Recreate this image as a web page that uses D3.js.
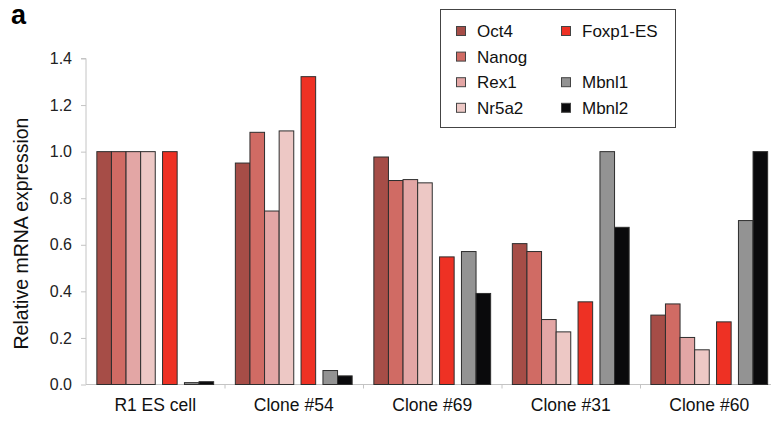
<!DOCTYPE html>
<html>
<head>
<meta charset="utf-8">
<script src="https://cdn.jsdelivr.net/npm/d3@7"></script>
<style>
  body { margin: 0; background: #fff; }
  svg { display: block; font-family: "Liberation Sans", Arial, sans-serif; }
</style>
</head>
<body>
<div id="chart"></div>
<script>
// Data
var groups = ["R1 ES cell", "Clone #54", "Clone #69", "Clone #31", "Clone #60"];
var seriesNames = ["Oct4", "Nanog", "Rex1", "Nr5a2", "Foxp1-ES", "Mbnl1", "Mbnl2"];
var oct4   = [1.0, 0.951, 0.977, 0.605, 0.298];
var nanog  = [1.0, 1.083, 0.876, 0.571, 0.346];
var rex1   = [1.0, 0.745, 0.880, 0.279, 0.202];
var nr5a2  = [1.0, 1.089, 0.866, 0.226, 0.149];
var foxp1  = [1.0, 1.322, 0.548, 0.355, 0.269];
var mbnl1  = [0.008, 0.060, 0.571, 1.0, 0.704];
var mbnl2  = [0.012, 0.037, 0.391, 0.675, 1.0];
var yTicks = [0, 0.2, 0.4, 0.6, 0.8, 1.0, 1.2, 1.4];

var seriesValues = [oct4, nanog, rex1, nr5a2, foxp1, mbnl1, mbnl2];
var colors = ["#a64d47", "#d06b64", "#e3a6a5", "#edc8c5", "#ee3124", "#939393", "#0a0a0c"];
// slot of each series inside a group (gaps around Foxp1-ES)
var slots = [0, 1, 2, 3, 4.5, 6, 7];

var svgWidth = 771;
var svgHeight = 422;

var svg = d3.select("#chart")
  .append("svg")
  .attr("width", svgWidth)
  .attr("height", svgHeight);

// Plot area
var x0 = 86, x1 = 778.5, yBottom = 384.5;

var xScale = d3.scaleBand()
  .domain(groups)
  .range([x0, x1])
  .paddingInner(0)
  .paddingOuter(0);

var yScale = d3.scaleLinear()
  .domain([0, 1.4])
  .range([yBottom, 58.5]);

var barW = 14.6;
var slotScale = d3.scaleLinear()
  .domain([0, 8])
  .range([(xScale.bandwidth() - 8 * barW) / 2, (xScale.bandwidth() + 8 * barW) / 2]);

// Y axis
var yAxis = svg.append("g")
  .attr("transform", `translate(${x0}, 0)`)
  .call(d3.axisLeft(yScale).tickValues(yTicks).tickFormat(d3.format(".1f")).tickSize(5).tickPadding(9));
yAxis.select(".domain").attr("stroke", "#c4c4c4").attr("d", `M-5,${yScale(1.4)}H0V${yBottom}`);
yAxis.selectAll(".tick line").attr("stroke", "#c4c4c4");
yAxis.selectAll(".tick text")
  .style("font-size", "16px")
  .style("font-family", "Liberation Sans, Arial, sans-serif")
  .attr("fill", "#222");

// X axis: ticks between groups
var xAxisG = svg.append("g");
xAxisG.append("line")
  .attr("x1", x0).attr("x2", x1)
  .attr("y1", yBottom).attr("y2", yBottom)
  .attr("stroke", "#c4c4c4");
xAxisG.selectAll(".xtick")
  .data(groups.slice(1))
  .enter()
  .append("line")
  .attr("x1", d => xScale(d) + 0.5)
  .attr("x2", d => xScale(d) + 0.5)
  .attr("y1", yBottom)
  .attr("y2", yBottom + 4)
  .attr("stroke", "#c4c4c4");
xAxisG.selectAll(".xlabel")
  .data(groups)
  .enter()
  .append("text")
  .attr("x", d => xScale(d) + xScale.bandwidth() / 2)
  .attr("y", 411)
  .attr("text-anchor", "middle")
  .style("font-size", "17.5px")
  .attr("fill", "#111")
  .text(d => d);

// Bars
seriesValues.forEach(function (vals, i) {
  svg.append("g")
    .selectAll("rect")
    .data(vals)
    .enter()
    .append("rect")
    .attr("x", (d, j) => xScale(groups[j]) + slotScale(slots[i]))
    .attr("y", d => yScale(d))
    .attr("width", barW)
    .attr("height", d => yBottom - yScale(d))
    .attr("fill", colors[i])
    .attr("stroke", "#2e2e2e")
    .attr("stroke-width", 1);
});

// Y axis title
svg.append("text")
  .attr("transform", `translate(28, ${(yScale(1.4) + yBottom) / 2 + 12}) rotate(-90)`)
  .attr("text-anchor", "middle")
  .style("font-size", "19.5px")
  .attr("fill", "#111")
  .text("Relative mRNA expression");

// Panel letter
svg.append("text")
  .attr("x", 11)
  .attr("y", 24)
  .style("font-size", "27px")
  .style("font-weight", "bold")
  .attr("fill", "#000")
  .text("a");

// Legend
var legend = svg.append("g");
legend.append("rect")
  .attr("x", 440.5).attr("y", 9.5)
  .attr("width", 235).attr("height", 118)
  .attr("fill", "#fff")
  .attr("stroke", "#444");

seriesNames.forEach(function (name, i) {
  var col = i < 4 ? 0 : 1;
  var row = i < 4 ? i : (i - 4) + (i >= 5 ? 1 : 0);
  var lx = col === 0 ? 456 : 561;
  var ly = 31 + row * 25.6;
  legend.append("rect")
    .attr("x", lx + 0.5).attr("y", ly - 4.5)
    .attr("width", 9).attr("height", 9)
    .attr("fill", colors[i])
    .attr("stroke", "#444");
  legend.append("text")
    .attr("x", lx + 21)
    .attr("y", ly + 6)
    .style("font-size", "17px")
    .attr("fill", "#111")
    .text(name);
});
</script>
</body>
</html>
